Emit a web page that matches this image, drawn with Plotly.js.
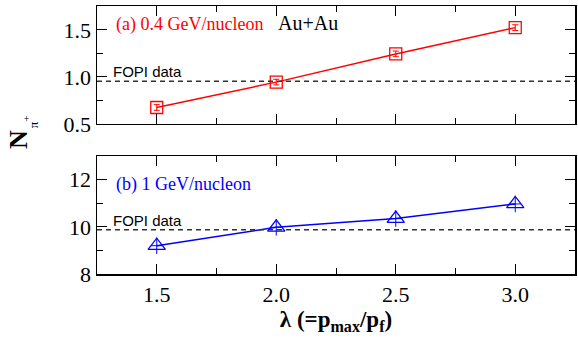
<!DOCTYPE html>
<html>
<head>
<meta charset="utf-8">
<script src="https://cdn.plot.ly/plotly-3.0.1.min.js"></script>
<style>html,body{margin:0;padding:0;background:#fff;}#chart{width:578px;height:344px;}</style>
</head>
<body>
<div id="chart"></div>
<script>
// Data
var lambda = [1.5, 2.0, 2.5, 3.0];
var npiA = [0.675, 0.945, 1.245, 1.525];   // (a) 0.4 GeV/nucleon
var errA = [0.03, 0.03, 0.03, 0.03];
var npiB = [9.2, 9.98, 10.35, 10.97];      // (b) 1 GeV/nucleon
var errB = [0.35, 0.35, 0.35, 0.35];
var fopiA = 0.955;
var fopiB = 9.88;
var xRange = [1.25, 3.25];
var xTicks = [1.5, 2.0, 2.5, 3.0];
var xTickText = ['1.5', '2.0', '2.5', '3.0'];
var yTicksA = [0.5, 1.0, 1.5];
var yTickTextA = ['0.5', '1.0', '1.5'];
var yTicksB = [8, 10, 12];
var yTickTextB = ['8', '10', '12'];

var serif = 'Liberation Serif';
var sans = 'Liberation Sans';

var traces = [
  {x: lambda, y: npiA, xaxis: 'x', yaxis: 'y', mode: 'lines+markers', type: 'scatter',
   line: {color: '#ff0000', width: 1.5},
   marker: {symbol: 'square-open', size: 12, color: '#ff0000', line: {width: 1.3}},
   error_y: {type: 'data', array: errA, visible: true, color: '#ff0000', thickness: 1, width: 3}},
  {x: xRange, y: [fopiA, fopiA], xaxis: 'x', yaxis: 'y', mode: 'lines', type: 'scatter',
   line: {color: '#333333', width: 1.5, dash: '5px,4px'}},
  {x: lambda, y: npiB, xaxis: 'x2', yaxis: 'y2', mode: 'lines+markers', type: 'scatter',
   line: {color: '#0000ff', width: 1.5},
   marker: {symbol: 'triangle-up-open', size: 15, color: '#0000ff', line: {width: 1.3}},
   error_y: {type: 'data', array: errB, visible: true, color: '#0000ff', thickness: 1, width: 0}},
  {x: lambda, y: npiB, xaxis: 'x2', yaxis: 'y2', mode: 'markers', type: 'scatter',
   marker: {symbol: 'line-ew-open', size: 8, color: '#0000ff', line: {width: 1, color: '#0000ff'}}},
  {x: xRange, y: [fopiB, fopiB], xaxis: 'x2', yaxis: 'y2', mode: 'lines', type: 'scatter',
   line: {color: '#333333', width: 1.5, dash: '5px,4px'}}
];

var xBase = {
  range: xRange, showgrid: false, zeroline: false,
  showline: true, linecolor: '#000', linewidth: 1.5, mirror: 'allticks',
  ticks: 'inside', ticklen: 10, tickwidth: 1, tickcolor: '#000',
  tickvals: xTicks,
  minor: {dtick: 0.25, tick0: 1.25, ticks: 'inside', ticklen: 6, tickwidth: 1, tickcolor: '#000'}
};

var layout = {
  width: 578, height: 344,
  margin: {l: 97, r: 3, t: 6, b: 70},
  paper_bgcolor: '#fff', plot_bgcolor: '#fff',
  showlegend: false,
  font: {family: serif, size: 22, color: '#000'},
  xaxis: Object.assign({}, xBase, {anchor: 'y', showticklabels: false}),
  xaxis2: Object.assign({}, xBase, {anchor: 'y2', showticklabels: true,
    ticktext: xTickText,
    tickfont: {family: serif, size: 22, color: '#000'},
    title: {text: '<b>λ (=p<sub>max</sub>/p<sub>f</sub>)</b>', font: {family: serif, size: 23, color: '#000'}, standoff: 0}}),
  yaxis: {domain: [0.56, 1], range: [0.5, 1.755], anchor: 'x',
    showgrid: false, zeroline: false, showline: true, linecolor: '#000', linewidth: 1.5, mirror: 'allticks',
    ticks: 'inside', ticklen: 10, tickwidth: 1, tickcolor: '#000',
    tickvals: yTicksA, ticktext: yTickTextA, tickfont: {family: serif, size: 22, color: '#000'},
    minor: {dtick: 0.25, tick0: 0.5, ticks: 'inside', ticklen: 6, tickwidth: 1, tickcolor: '#000'}},
  yaxis2: {domain: [0, 0.44], range: [8, 13], anchor: 'x2',
    showgrid: false, zeroline: false, showline: true, linecolor: '#000', linewidth: 1.5, mirror: 'allticks',
    ticks: 'inside', ticklen: 10, tickwidth: 1, tickcolor: '#000',
    tickvals: yTicksB, ticktext: yTickTextB, tickfont: {family: serif, size: 22, color: '#000'},
    minor: {dtick: 1, tick0: 8, ticks: 'inside', ticklen: 6, tickwidth: 1, tickcolor: '#000'}},
  annotations: [
    {xref: 'paper', yref: 'paper', x: 0.035, y: 0.93, xanchor: 'left', yanchor: 'middle',
     text: '(a) 0.4 GeV/nucleon', showarrow: false, font: {family: serif, size: 18, color: '#ff0000'}},
    {xref: 'paper', yref: 'paper', x: 0.375, y: 0.935, xanchor: 'left', yanchor: 'middle',
     text: 'Au+Au', showarrow: false, font: {family: serif, size: 20, color: '#000'}},
    {xref: 'paper', yref: 'paper', x: 0.03, y: 0.755, xanchor: 'left', yanchor: 'middle',
     text: 'FOPI data', showarrow: false, font: {family: sans, size: 15, color: '#000'}},
    {xref: 'paper', yref: 'paper', x: 0.035, y: 0.333, xanchor: 'left', yanchor: 'middle',
     text: '(b) 1 GeV/nucleon', showarrow: false, font: {family: serif, size: 18, color: '#0000ff'}},
    {xref: 'paper', yref: 'paper', x: 0.03, y: 0.198, xanchor: 'left', yanchor: 'middle',
     text: 'FOPI data', showarrow: false, font: {family: sans, size: 15, color: '#000'}},
    {xref: 'paper', yref: 'paper', x: -0.164, y: 0.502, xanchor: 'center', yanchor: 'middle', textangle: -90,
     text: '<b>N</b>', showarrow: false, font: {family: serif, size: 26, color: '#000'}},
    {xref: 'paper', yref: 'paper', x: -0.149, y: 0.578, xanchor: 'center', yanchor: 'middle', textangle: -90,
     text: '+', showarrow: false, font: {family: serif, size: 11, color: '#000'}},
    {xref: 'paper', yref: 'paper', x: -0.131, y: 0.556, xanchor: 'center', yanchor: 'middle', textangle: -90,
     text: 'π', showarrow: false, font: {family: serif, size: 13, color: '#000'}}
  ]
};

Plotly.newPlot('chart', traces, layout, {staticPlot: true, displayModeBar: false});
</script>
</body>
</html>
